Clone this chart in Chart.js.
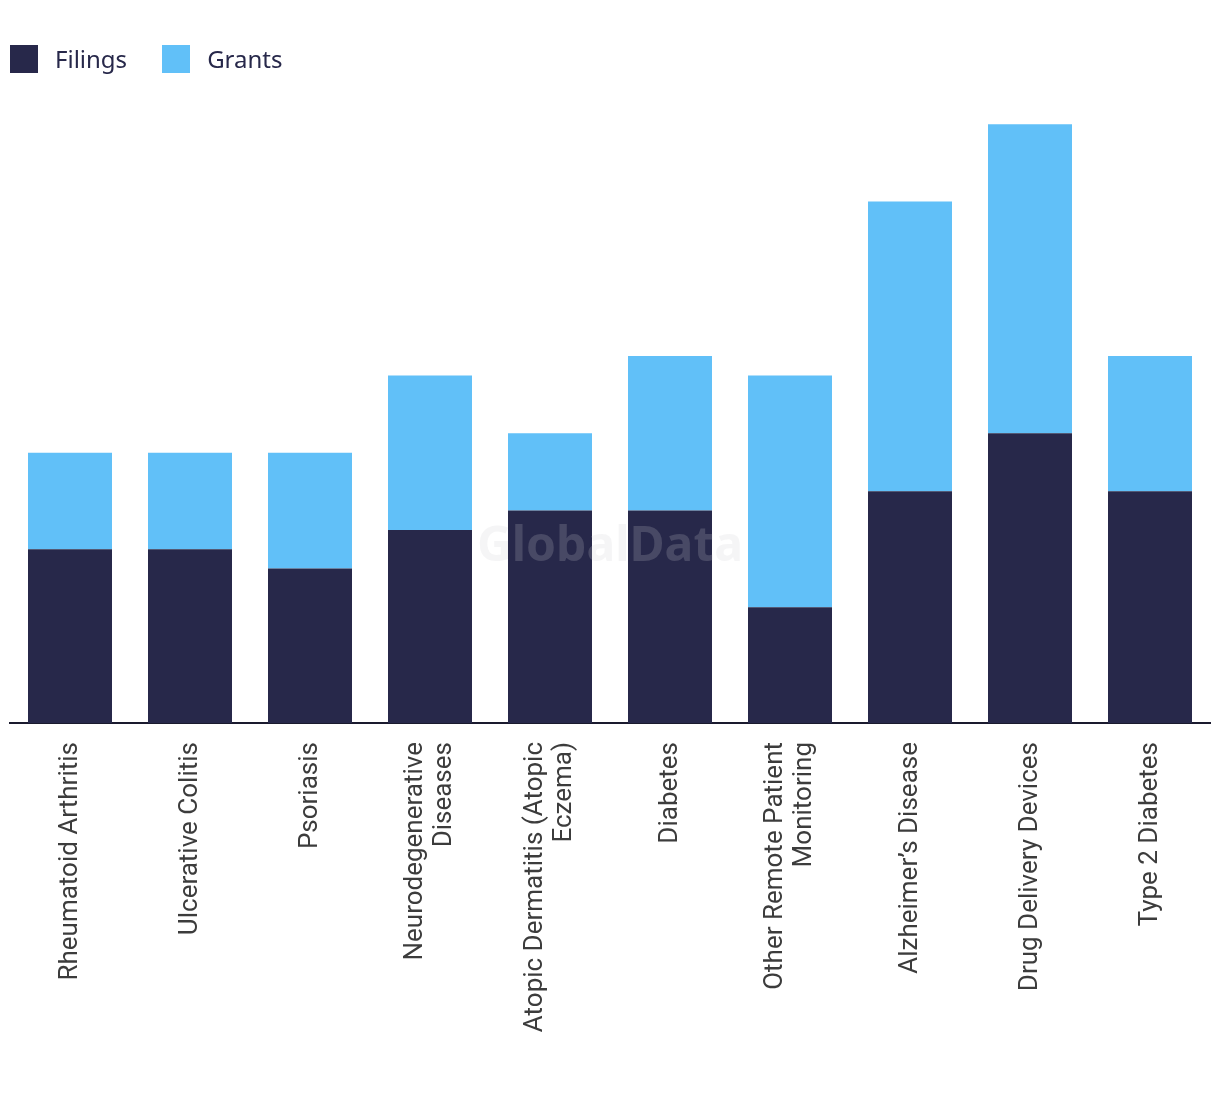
<!DOCTYPE html>
<html>
<head>
<meta charset="utf-8">
<script src="https://cdn.jsdelivr.net/npm/chart.js@4"></script>
<style>
  html, body { margin: 0; padding: 0; background: #fff; }
  #wrap { width: 1220px; height: 1094px; position: relative; }
  .legend { position: absolute; left: 10px; top: 45px; height: 28px; display: flex; align-items: center;
            font-family: "Noto Sans", sans-serif; font-size: 24px; line-height: 28px; color: #27284a; }
  .legend .item { display: flex; align-items: center; margin-right: 35px; }
  .legend .box { width: 28px; height: 28px; margin-right: 17px; }
</style>
</head>
<body>
<div id="wrap">
  <canvas id="chart"></canvas>
  <div class="legend" id="legend"></div>
</div>
<script>
const categories = [
  'Rheumatoid Arthritis',
  'Ulcerative Colitis',
  'Psoriasis',
  ['Neurodegenerative', 'Diseases'],
  ['Atopic Dermatitis (Atopic', 'Eczema)'],
  'Diabetes',
  ['Other Remote Patient', 'Monitoring'],
  "Alzheimer\u2019s Disease",
  'Drug Delivery Devices',
  'Type 2 Diabetes'
];
const filings = [9, 9, 8, 10, 11, 11, 6, 12, 15, 12];
const grants = [5, 5, 6, 8, 4, 8, 12, 15, 16, 7];
const yMax = 32;

const colors = { Filings: '#27284a', Grants: '#61c0f8' };

// faint watermark in the middle of the plot
const watermark = {
  id: 'watermark',
  afterDatasetsDraw(chart) {
    const ctx = chart.ctx;
    const a = chart.chartArea;
    ctx.save();
    ctx.font = 'bold 48px "Noto Sans", sans-serif';
    ctx.fillStyle = 'rgba(205, 205, 212, 0.2)';
    ctx.textAlign = 'center';
    ctx.textBaseline = 'middle';
    ctx.fillText('GlobalData', (a.left + a.right) / 2, 547);
    ctx.restore();
  }
};

// center multi-line rotated labels on their tick
const centerLabels = {
  id: 'centerLabels',
  beforeDraw(chart) {
    const scale = chart.scales.x;
    const items = scale.getLabelItems();
    items.forEach(item => {
      const lines = Array.isArray(item.label) ? item.label.length : 1;
      if (lines > 1) {
        item.options.translation[0] -= (lines - 1) * item.font.lineHeight / 2;
      }
    });
  }
};

const ctx = document.getElementById('chart').getContext('2d');
const chart = new Chart(ctx, {
  type: 'bar',
  data: {
    labels: categories,
    datasets: [{
      label: 'Filings',
      data: filings,
      backgroundColor: colors.Filings,
      barPercentage: 0.7,
      categoryPercentage: 1
    }, {
      label: 'Grants',
      data: grants,
      backgroundColor: colors.Grants,
      barPercentage: 0.7,
      categoryPercentage: 1
    }]
  },
  options: {
    responsive: true,
    maintainAspectRatio: false,
    animation: false,
    layout: {
      padding: { left: 10, right: 10, top: 105, bottom: 0 }
    },
    plugins: {
      legend: { display: false },
      tooltip: { enabled: false }
    },
    scales: {
      x: {
        stacked: true,
        grid: { display: false, drawTicks: false },
        border: { display: true, color: '#1a1a2e', width: 2 },
        afterFit(scale) { scale.height = 1094 - 723; },
        ticks: {
          minRotation: 90,
          maxRotation: 90,
          autoSkip: false,
          padding: 19,
          color: '#3c3c3c',
          font: { family: 'Roboto, sans-serif', size: 26, lineHeight: 1.15 }
        }
      },
      y: {
        stacked: true,
        display: false,
        min: 0,
        max: yMax
      }
    }
  },
  plugins: [watermark, centerLabels]
});

// legend as html
const legendEl = document.getElementById('legend');
chart.data.datasets.forEach(ds => {
  const item = document.createElement('div');
  item.className = 'item';
  const box = document.createElement('span');
  box.className = 'box';
  box.style.background = ds.backgroundColor;
  const txt = document.createElement('span');
  txt.textContent = ds.label;
  item.appendChild(box);
  item.appendChild(txt);
  legendEl.appendChild(item);
});
</script>
</body>
</html>
